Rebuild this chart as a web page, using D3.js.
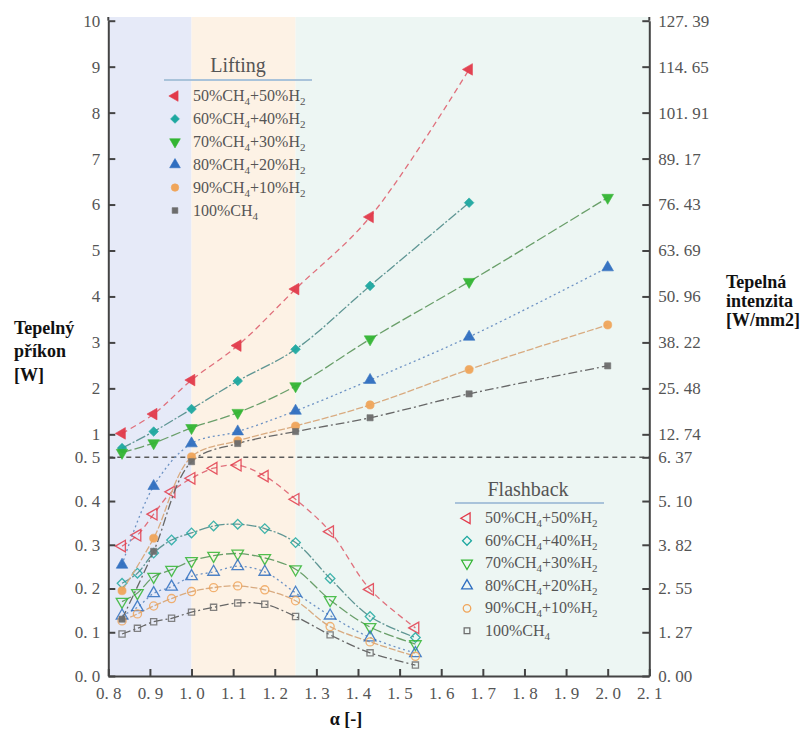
<!DOCTYPE html>
<html><head><meta charset="utf-8">
<script src="https://cdn.jsdelivr.net/npm/d3@7"></script>
<style>body{margin:0;background:#fff} svg{display:block}</style>
</head><body>
<svg id="c" width="806" height="733"></svg>
<script>
// ---------- data ----------
const seriesNames = ["50%CH4+50%H2","60%CH4+40%H2","70%CH4+30%H2","80%CH4+20%H2","90%CH4+10%H2","100%CH4"];
const liftAlpha = [0.833,0.909,1.0,1.111,1.25,1.429,1.667,2.0];
const lift50  = [1.02,1.44,2.18,2.93,4.16,5.73,8.94];
const lift60  = [0.70,1.06,1.55,2.16,2.85,4.23,6.04];
const lift70  = [0.60,0.81,1.14,1.47,2.05,3.07,4.32,6.15];
const lift80  = [0.254,0.434,0.80,1.06,1.51,2.18,3.12,4.63];
const lift90  = [0.195,0.315,0.51,0.86,1.18,1.64,2.41,3.38];
const lift100 = [0.13,0.285,0.49,0.80,1.06,1.36,1.88,2.49];
const flashAlpha = [0.833,0.870,0.909,0.952,1.0,1.053,1.111,1.176,1.25,1.333,1.429,1.538];
const flash50  = [0.297,0.322,0.370,0.421,0.452,0.475,0.482,0.457,0.404,0.330,0.198,0.110];
const flash60  = [0.212,0.235,0.281,0.311,0.327,0.343,0.347,0.337,0.305,0.223,0.136,0.088];
const flash70  = [0.170,0.190,0.227,0.243,0.263,0.275,0.280,0.270,0.244,0.174,0.112,0.073];
const flash80  = [0.138,0.157,0.189,0.204,0.228,0.238,0.251,0.238,0.190,0.138,0.088,0.052];
const flash90  = [0.126,0.142,0.160,0.177,0.193,0.202,0.206,0.197,0.172,0.113,0.078,0.045];
const flash100 = [0.096,0.109,0.124,0.132,0.146,0.157,0.167,0.164,0.136,0.094,0.053,0.025];
const xTicks = [0.8,0.9,1.0,1.1,1.2,1.3,1.4,1.5,1.6,1.7,1.8,1.9,2.0,2.1];
const xTickLabels = ["0. 8","0. 9","1. 0","1. 1","1. 2","1. 3","1. 4","1. 5","1. 6","1. 7","1. 8","1. 9","2. 0","2. 1"];
const yTicks = [0,0.1,0.2,0.3,0.4,0.5,1,2,3,4,5,6,7,8,9,10];
const yTickLabelsLeft = ["0. 0","0. 1","0. 2","0. 3","0. 4","0. 5","1","2","3","4","5","6","7","8","9","10"];
const yTickLabelsRight = ["0. 00","1. 27","2. 55","3. 82","5. 10","6. 37","12. 74","25. 48","38. 22","50. 96","63. 69","76. 43","89. 17","101. 91","114. 65","127. 39"];
const bandEdges = [0.8,1.0,1.25,2.1];
const yBreak = 0.5;

const liftSeries = [lift50,lift60,lift70,lift80,lift90,lift100];
const flashSeries = [flash50,flash60,flash70,flash80,flash90,flash100];

// ---------- styles ----------
const markerColors = ["#e23a4a","#1ea8a0","#33b533","#2f6ec0","#f0a55a","#6d6d6d"];
const lineColors = ["#e0707c","#5f9694","#6a9f6a","#6d92c4","#d9ab80","#676767"];
const dashes = ["6,4","10,2,2,2","10,3","2,3","7,2","9,3,2,3"];
const bandColors = ["#e6eaf8","#fdf2e5","#edf6f3"];
const serifFont = "'Liberation Serif', 'Times New Roman', serif";

const svg = d3.select("#c");
const x = d3.scaleLinear().domain([0.8,2.1]).range([108.3,649.3]);
const y = d3.scaleLinear().domain([0,yBreak,10]).range([676,457.3,20.7]);
const plotTop = 17;

// bands
svg.append("g").selectAll("rect").data(d3.pairs(bandEdges)).join("rect")
  .attr("x",d=>x(d[0])).attr("width",d=>x(d[1])-x(d[0]))
  .attr("y",plotTop).attr("height",y(0)-plotTop)
  .attr("fill",(d,i)=>bandColors[i]);

// break line at 0.5
svg.append("line").attr("x1",x(0.8)).attr("x2",x(2.1)).attr("y1",y(yBreak)).attr("y2",y(yBreak))
  .attr("stroke","#5a5a5a").attr("stroke-width",1.5).attr("stroke-dasharray","5,4");

// symbols
function symPath(i, size){
  const types=[d3.symbolTriangle,d3.symbolSquare,d3.symbolTriangle,d3.symbolTriangle,d3.symbolCircle,d3.symbolSquare];
  const sizes=[58,46,58,58,52,38];
  return d3.symbol(types[i], (size||1)*sizes[i])();
}
const rot=[-90,45,180,0,0,0];

const line = d3.line().x(d=>x(d[0])).y(d=>y(d[1])).curve(d3.curveCatmullRom.alpha(0.5));

function drawSeries(alphas, series, open){
  series.forEach((vals,i)=>{
    const pts = vals.map((v,j)=>[alphas[j],v]);
    svg.append("path").attr("d",line(pts)).attr("fill","none")
      .attr("stroke",lineColors[i]).attr("stroke-width",1.3)
      .attr("stroke-dasharray",dashes[i]);
  });
  series.forEach((vals,i)=>{
    const pts = vals.map((v,j)=>[alphas[j],v]);
    svg.append("g").selectAll("path").data(pts).join("path")
      .attr("d",symPath(i))
      .attr("transform",d=>`translate(${x(d[0])},${y(d[1])}) rotate(${rot[i]})`)
      .attr("fill",open?"none":markerColors[i])
      .attr("stroke",markerColors[i])
      .attr("stroke-width",open?1.3:0.6)
      .attr("opacity",open?0.85:0.95);
  });
}
drawSeries(flashAlpha, flashSeries, true);
drawSeries(liftAlpha, liftSeries, false);

// axes
function styleAxis(g){
  g.attr("font-family",null);
  g.selectAll(".domain").attr("stroke","#444").attr("stroke-width",2);
  g.selectAll(".tick line").attr("stroke","#444").attr("stroke-width",2);
  g.selectAll(".tick text").attr("fill","#555").attr("font-family",serifFont).attr("font-size",17);
}
const gl = svg.append("g").attr("transform",`translate(${x(0.8)},0)`)
  .call(d3.axisLeft(y).tickValues(yTicks).tickFormat((d,i)=>yTickLabelsLeft[i]).tickSizeInner(-7).tickSizeOuter(0).tickPadding(8));
styleAxis(gl);
const gr = svg.append("g").attr("transform",`translate(${x(2.1)},0)`)
  .call(d3.axisRight(y).tickValues(yTicks).tickFormat((d,i)=>yTickLabelsRight[i]).tickSizeInner(-7).tickSizeOuter(0).tickPadding(9));
styleAxis(gr);
const gb = svg.append("g").attr("transform",`translate(0,${y(0)})`)
  .call(d3.axisBottom(x).tickValues(xTicks).tickFormat((d,i)=>xTickLabels[i]).tickSizeInner(-7).tickSizeOuter(0).tickPadding(11));
styleAxis(gb);
// extend vertical axes to the top of the plot
[x(0.8),x(2.1)].forEach(px=>svg.append("line").attr("x1",px).attr("x2",px).attr("y1",plotTop).attr("y2",y(10)).attr("stroke","#444").attr("stroke-width",2));

// axis titles
function multiText(xp, baselines, lines, anchor){
  const t = svg.append("text").attr("font-family",serifFont).attr("font-weight","bold")
    .attr("font-size",18).attr("fill","#111").attr("text-anchor",anchor||"start");
  lines.forEach((s,i)=>t.append("tspan").attr("x",xp).attr("y",baselines[i]).text(s));
}
multiText(14,[334,357,381],["Tepelný","příkon","[W]"]);
multiText(726,[288,307,326],["Tepelná","intenzita","[W/mm2]"]);
multiText(346,[725],["α [-]"],"middle");

// legends
function legend(title, tx, ty, ux1, ux2, uy, sx, txx, y0, dy, open){
  svg.append("text").attr("x",tx).attr("y",ty).attr("text-anchor","middle")
    .attr("font-family",serifFont).attr("font-size",20).attr("fill","#555").text(title);
  svg.append("line").attr("x1",ux1).attr("x2",ux2).attr("y1",uy).attr("y2",uy)
    .attr("stroke","#a9c3da").attr("stroke-width",2);
  seriesNames.forEach((name,i)=>{
    const cy = y0 + i*dy;
    svg.append("path").attr("d",symPath(i,0.85))
      .attr("transform",`translate(${sx},${cy}) rotate(${rot[i]})`)
      .attr("fill",open?"none":markerColors[i]).attr("stroke",markerColors[i])
      .attr("stroke-width",open?1.3:0.6);
    const t = svg.append("text").attr("x",txx).attr("y",cy+5)
      .attr("font-family",serifFont).attr("font-size",16).attr("fill","#555");
    const parts = name.split(/(?<=H)(\d)/);
    parts.forEach((p,k)=>{
      if(!p) return;
      if(k%2===1){ t.append("tspan").attr("dy",4).attr("font-size",11).text(p); }
      else { t.append("tspan").attr("dy",k>0?-4:0).text(p); }
    });
  });
}
legend("Lifting",238,72,164,312,80,175,193,96,22.9,false);
legend("Flashback",528,496,455,604,503,467,485,518.3,22.5,true);
</script>
</body></html>
